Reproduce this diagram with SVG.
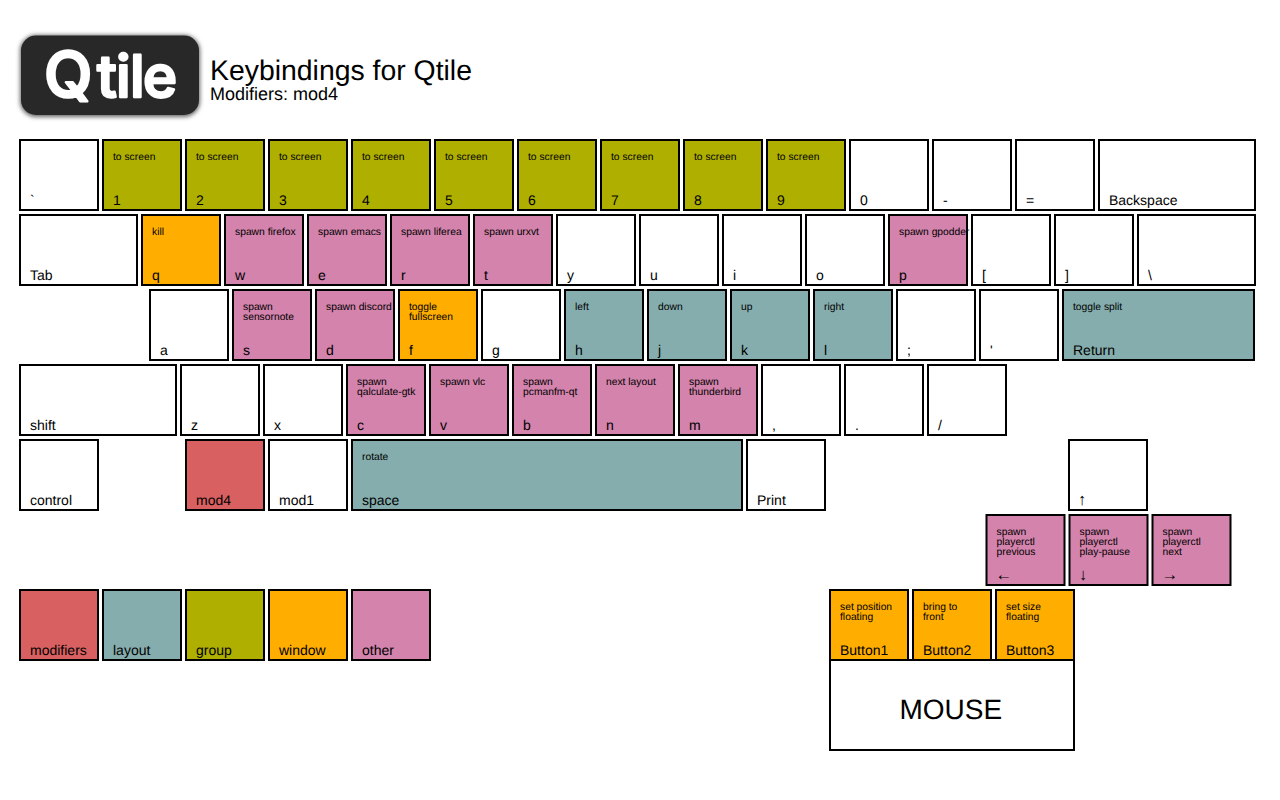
<svg xmlns="http://www.w3.org/2000/svg" width="1280" height="800" viewBox="0 0 1280 800">
<style>
text{font-family:"Liberation Sans",Arial,sans-serif;fill:#000;text-rendering:geometricPrecision}
.k{stroke:#000;stroke-width:2}
.w{fill:#fff}.g{fill:#afaf00}.p{fill:#d383ac}.o{fill:#ffae00}.t{fill:#85adad}.r{fill:#d96060}
.l{font-size:14px}.s{font-size:10.300px}
.a{font-size:16.500px}
.logo{font-family:Inter,"Liberation Sans",sans-serif;font-weight:500;font-size:58px;fill:#fff;stroke:#fff;stroke-width:2.500;stroke-linejoin:round}
</style>
<defs><filter id="sh" x="-10%" y="-20%" width="120%" height="140%"><feGaussianBlur stdDeviation="2"/></filter></defs>
<rect width="1280" height="800" fill="#fff"/>
<g id="logo">
<rect x="20" y="35" width="180" height="82" rx="16" fill="#666" filter="url(#sh)"/>
<rect x="21" y="35.500" width="178" height="79.500" rx="15" fill="#282828"/>
<text class="logo" y="97"><tspan x="44" style="font-size:63px">Q</tspan><tspan x="97 116 130 143">tile</tspan></text>
</g>
<g id="title"><text x="210" y="80" style="font-size:28.400px">Keybindings for Qtile</text><text x="210" y="100" style="font-size:18px">Modifiers: mod4</text></g>
<g id="connectors"/>
<g id="key-grave"><rect class="k w" x="20" y="140" width="78" height="70"/><text class="l" x="30" y="205">`</text></g>
<g id="key-1"><rect class="k g" x="103" y="140" width="78" height="70"/><text class="s" x="113" y="160">to screen</text><text class="l" x="113" y="205">1</text></g>
<g id="key-2"><rect class="k g" x="186" y="140" width="78" height="70"/><text class="s" x="196" y="160">to screen</text><text class="l" x="196" y="205">2</text></g>
<g id="key-3"><rect class="k g" x="269" y="140" width="78" height="70"/><text class="s" x="279" y="160">to screen</text><text class="l" x="279" y="205">3</text></g>
<g id="key-4"><rect class="k g" x="352" y="140" width="78" height="70"/><text class="s" x="362" y="160">to screen</text><text class="l" x="362" y="205">4</text></g>
<g id="key-5"><rect class="k g" x="435" y="140" width="78" height="70"/><text class="s" x="445" y="160">to screen</text><text class="l" x="445" y="205">5</text></g>
<g id="key-6"><rect class="k g" x="518" y="140" width="78" height="70"/><text class="s" x="528" y="160">to screen</text><text class="l" x="528" y="205">6</text></g>
<g id="key-7"><rect class="k g" x="601" y="140" width="78" height="70"/><text class="s" x="611" y="160">to screen</text><text class="l" x="611" y="205">7</text></g>
<g id="key-8"><rect class="k g" x="684" y="140" width="78" height="70"/><text class="s" x="694" y="160">to screen</text><text class="l" x="694" y="205">8</text></g>
<g id="key-9"><rect class="k g" x="767" y="140" width="78" height="70"/><text class="s" x="777" y="160">to screen</text><text class="l" x="777" y="205">9</text></g>
<g id="key-0"><rect class="k w" x="850" y="140" width="78" height="70"/><text class="l" x="860" y="205">0</text></g>
<g id="key-minus"><rect class="k w" x="933" y="140" width="78" height="70"/><text class="l" x="943" y="205">-</text></g>
<g id="key-equal"><rect class="k w" x="1016" y="140" width="78" height="70"/><text class="l" x="1026" y="205">=</text></g>
<g id="key-backspace"><rect class="k w" x="1099" y="140" width="156" height="70"/><text class="l" x="1109" y="205">Backspace</text></g>
<g id="key-tab"><rect class="k w" x="20" y="215" width="117" height="70"/><text class="l" x="30" y="280">Tab</text></g>
<g id="key-q"><rect class="k o" x="142" y="215" width="78" height="70"/><text class="s" x="152" y="235">kill</text><text class="l" x="152" y="280">q</text></g>
<g id="key-w"><rect class="k p" x="225" y="215" width="78" height="70"/><text class="s" x="235" y="235">spawn firefox</text><text class="l" x="235" y="280">w</text></g>
<g id="key-e"><rect class="k p" x="308" y="215" width="78" height="70"/><text class="s" x="318" y="235">spawn emacs</text><text class="l" x="318" y="280">e</text></g>
<g id="key-r"><rect class="k p" x="391" y="215" width="78" height="70"/><text class="s" x="401" y="235">spawn liferea</text><text class="l" x="401" y="280">r</text></g>
<g id="key-t"><rect class="k p" x="474" y="215" width="78" height="70"/><text class="s" x="484" y="235">spawn urxvt</text><text class="l" x="484" y="280">t</text></g>
<g id="key-y"><rect class="k w" x="557" y="215" width="78" height="70"/><text class="l" x="567" y="280">y</text></g>
<g id="key-u"><rect class="k w" x="640" y="215" width="78" height="70"/><text class="l" x="650" y="280">u</text></g>
<g id="key-i"><rect class="k w" x="723" y="215" width="78" height="70"/><text class="l" x="733" y="280">i</text></g>
<g id="key-o"><rect class="k w" x="806" y="215" width="78" height="70"/><text class="l" x="816" y="280">o</text></g>
<g id="key-p"><rect class="k p" x="889" y="215" width="78" height="70"/><text class="s" x="899" y="235">spawn gpodder</text><text class="l" x="899" y="280">p</text></g>
<g id="key-lbracket"><rect class="k w" x="972" y="215" width="78" height="70"/><text class="l" x="982" y="280">[</text></g>
<g id="key-rbracket"><rect class="k w" x="1055" y="215" width="78" height="70"/><text class="l" x="1065" y="280">]</text></g>
<g id="key-backslash"><rect class="k w" x="1138" y="215" width="117" height="70"/><text class="l" x="1148" y="280">\</text></g>
<g id="key-a"><rect class="k w" x="150" y="290" width="78" height="70"/><text class="l" x="160" y="355">a</text></g>
<g id="key-s"><rect class="k p" x="233" y="290" width="78" height="70"/><text class="s" x="243" y="310">spawn</text><text class="s" x="243" y="320">sensornote</text><text class="l" x="243" y="355">s</text></g>
<g id="key-d"><rect class="k p" x="316" y="290" width="78" height="70"/><text class="s" x="326" y="310">spawn discord</text><text class="l" x="326" y="355">d</text></g>
<g id="key-f"><rect class="k o" x="399" y="290" width="78" height="70"/><text class="s" x="409" y="310">toggle</text><text class="s" x="409" y="320">fullscreen</text><text class="l" x="409" y="355">f</text></g>
<g id="key-g"><rect class="k w" x="482" y="290" width="78" height="70"/><text class="l" x="492" y="355">g</text></g>
<g id="key-h"><rect class="k t" x="565" y="290" width="78" height="70"/><text class="s" x="575" y="310">left</text><text class="l" x="575" y="355">h</text></g>
<g id="key-j"><rect class="k t" x="648" y="290" width="78" height="70"/><text class="s" x="658" y="310">down</text><text class="l" x="658" y="355">j</text></g>
<g id="key-k"><rect class="k t" x="731" y="290" width="78" height="70"/><text class="s" x="741" y="310">up</text><text class="l" x="741" y="355">k</text></g>
<g id="key-l"><rect class="k t" x="814" y="290" width="78" height="70"/><text class="s" x="824" y="310">right</text><text class="l" x="824" y="355">l</text></g>
<g id="key-semicolon"><rect class="k w" x="897" y="290" width="78" height="70"/><text class="l" x="907" y="355">;</text></g>
<g id="key-quote"><rect class="k w" x="980" y="290" width="78" height="70"/><text class="l" x="990" y="355">'</text></g>
<g id="key-return"><rect class="k t" x="1063" y="290" width="191" height="70"/><text class="s" x="1073" y="310">toggle split</text><text class="l" x="1073" y="355">Return</text></g>
<g id="key-shift"><rect class="k w" x="20" y="365" width="156" height="70"/><text class="l" x="30" y="430">shift</text></g>
<g id="key-z"><rect class="k w" x="181" y="365" width="78" height="70"/><text class="l" x="191" y="430">z</text></g>
<g id="key-x"><rect class="k w" x="264" y="365" width="78" height="70"/><text class="l" x="274" y="430">x</text></g>
<g id="key-c"><rect class="k p" x="347" y="365" width="78" height="70"/><text class="s" x="357" y="385">spawn</text><text class="s" x="357" y="395">qalculate-gtk</text><text class="l" x="357" y="430">c</text></g>
<g id="key-v"><rect class="k p" x="430" y="365" width="78" height="70"/><text class="s" x="440" y="385">spawn vlc</text><text class="l" x="440" y="430">v</text></g>
<g id="key-b"><rect class="k p" x="513" y="365" width="78" height="70"/><text class="s" x="523" y="385">spawn</text><text class="s" x="523" y="395">pcmanfm-qt</text><text class="l" x="523" y="430">b</text></g>
<g id="key-n"><rect class="k p" x="596" y="365" width="78" height="70"/><text class="s" x="606" y="385">next layout</text><text class="l" x="606" y="430">n</text></g>
<g id="key-m"><rect class="k p" x="679" y="365" width="78" height="70"/><text class="s" x="689" y="385">spawn</text><text class="s" x="689" y="395">thunderbird</text><text class="l" x="689" y="430">m</text></g>
<g id="key-comma"><rect class="k w" x="762" y="365" width="78" height="70"/><text class="l" x="772" y="430">,</text></g>
<g id="key-period"><rect class="k w" x="845" y="365" width="78" height="70"/><text class="l" x="855" y="430">.</text></g>
<g id="key-slash"><rect class="k w" x="928" y="365" width="78" height="70"/><text class="l" x="938" y="430">/</text></g>
<g id="key-control"><rect class="k w" x="20" y="440" width="78" height="70"/><text class="l" x="30" y="505">control</text></g>
<g id="key-mod4"><rect class="k r" x="186" y="440" width="78" height="70"/><text class="l" x="196" y="505">mod4</text></g>
<g id="key-mod1"><rect class="k w" x="269" y="440" width="78" height="70"/><text class="l" x="279" y="505">mod1</text></g>
<g id="key-space"><rect class="k t" x="352" y="440" width="390" height="70"/><text class="s" x="362" y="460">rotate</text><text class="l" x="362" y="505">space</text></g>
<g id="key-print"><rect class="k w" x="747" y="440" width="78" height="70"/><text class="l" x="757" y="505">Print</text></g>
<g id="key-up"><rect class="k w" x="1069" y="440" width="78" height="70"/><text class="a" x="1078" y="505">↑</text></g>
<g id="key-left"><rect class="k p" x="986.500" y="515" width="78" height="70"/><text class="s" x="996.500" y="535">spawn</text><text class="s" x="996.500" y="545">playerctl</text><text class="s" x="996.500" y="555">previous</text><text class="a" x="995.500" y="580">←</text></g>
<g id="key-down"><rect class="k p" x="1069.500" y="515" width="78" height="70"/><text class="s" x="1079.500" y="535">spawn</text><text class="s" x="1079.500" y="545">playerctl</text><text class="s" x="1079.500" y="555">play-pause</text><text class="a" x="1079" y="580">↓</text></g>
<g id="key-right"><rect class="k p" x="1152.500" y="515" width="78" height="70"/><text class="s" x="1162.500" y="535">spawn</text><text class="s" x="1162.500" y="545">playerctl</text><text class="s" x="1162.500" y="555">next</text><text class="a" x="1161.500" y="580">→</text></g>
<g id="legend-modifiers"><rect class="k r" x="20" y="590" width="78" height="70"/><text class="l" x="30" y="655">modifiers</text></g>
<g id="legend-layout"><rect class="k t" x="103" y="590" width="78" height="70"/><text class="l" x="113" y="655">layout</text></g>
<g id="legend-group"><rect class="k g" x="186" y="590" width="78" height="70"/><text class="l" x="196" y="655">group</text></g>
<g id="legend-window"><rect class="k o" x="269" y="590" width="78" height="70"/><text class="l" x="279" y="655">window</text></g>
<g id="legend-other"><rect class="k p" x="352" y="590" width="78" height="70"/><text class="l" x="362" y="655">other</text></g>
<g id="button-1"><rect class="k o" x="830" y="590" width="78" height="70"/><text class="s" x="840" y="610">set position</text><text class="s" x="840" y="620">floating</text><text class="l" x="840" y="655">Button1</text></g>
<g id="button-2"><rect class="k o" x="913" y="590" width="78" height="70"/><text class="s" x="923" y="610">bring to</text><text class="s" x="923" y="620">front</text><text class="l" x="923" y="655">Button2</text></g>
<g id="button-3"><rect class="k o" x="996" y="590" width="78" height="70"/><text class="s" x="1006" y="610">set size</text><text class="s" x="1006" y="620">floating</text><text class="l" x="1006" y="655">Button3</text></g>
<g id="mouse"><rect class="k w" x="830" y="660" width="244" height="90"/><text x="899.500" y="719" style="font-size:28px">MOUSE</text></g>
</svg>
